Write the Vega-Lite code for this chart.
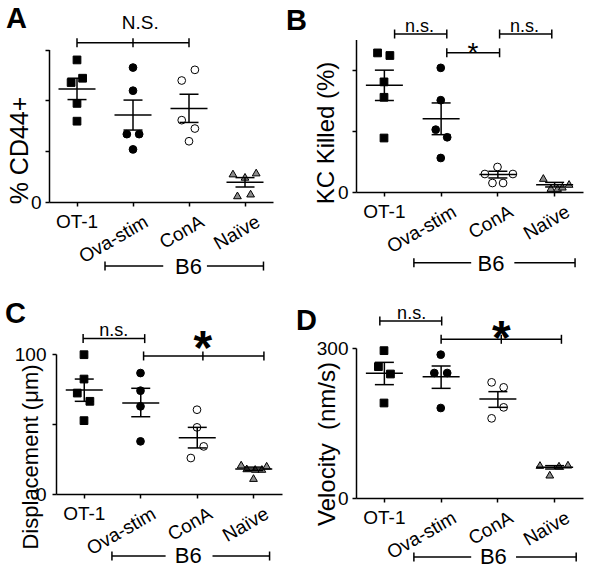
{
  "$schema": "https://vega.github.io/schema/vega-lite/v6.json",
  "background": "white",
  "padding": {"left": 5, "top": 5, "right": 5, "bottom": 0},
  "config": {
    "font": "Liberation Sans",
    "view": {"stroke": null},
    "axis": {"grid": false, "labelOverlap": false, "labelFlush": false, "domainColor": "black", "domainWidth": 1.5, "tickColor": "black", "tickWidth": 1.5, "tickSize": 4, "labelColor": "black", "labelFontSize": 19, "labelPadding": 4, "titleColor": "black", "titleFontWeight": "normal", "titleFontSize": 25},
    "title": {"fontSize": 29, "fontWeight": "bold", "color": "black", "anchor": "start", "frame": "group", "offset": 0},
    "text": {"color": "black"}
  },
  "datasets": {
    "A_pts": [
      {"group": "OT-1", "val": 55.9, "jit": 0}, {"group": "OT-1", "val": 48.7, "jit": 0.2}, {"group": "OT-1", "val": 47, "jit": -0.21}, {"group": "OT-1", "val": 38.8, "jit": 0}, {"group": "OT-1", "val": 31.8, "jit": 0},
      {"group": "Ova-stim", "val": 52.9, "jit": 0}, {"group": "Ova-stim", "val": 43.8, "jit": 0}, {"group": "Ova-stim", "val": 26.7, "jit": -0.22}, {"group": "Ova-stim", "val": 26.7, "jit": 0.22}, {"group": "Ova-stim", "val": 20.7, "jit": 0},
      {"group": "ConA", "val": 52, "jit": 0.21}, {"group": "ConA", "val": 47.8, "jit": -0.26}, {"group": "ConA", "val": 32.2, "jit": -0.26}, {"group": "ConA", "val": 28.9, "jit": 0.21}, {"group": "ConA", "val": 23.9, "jit": 0},
      {"group": "Naïve", "val": 11.2, "jit": -0.43}, {"group": "Naïve", "val": 9.9, "jit": 0}, {"group": "Naïve", "val": 11.6, "jit": 0.4}, {"group": "Naïve", "val": 3.3, "jit": 0.2}, {"group": "Naïve", "val": 2.6, "jit": -0.27}
    ],
    "A_sum": [
      {"group": "OT-1", "mean": 44.5, "lo": 40.3, "hi": 48.7}, {"group": "Ova-stim", "mean": 34.2, "lo": 28.3, "hi": 40.1}, {"group": "ConA", "mean": 36.8, "lo": 31.3, "hi": 42.4}, {"group": "Naïve", "mean": 7.8, "lo": 5.9, "hi": 9.6}
    ],
    "A_br": [{"x": 0.5, "x2": 2.5, "y": 62.7}, {"x": 1.0, "x2": 2.04, "y": -25.2}, {"x": 2.82, "x2": 3.83, "y": -25.2}],
    "A_cap": [{"x": 0.5, "y": 62.7}, {"x": 1.5, "y": 62.7}, {"x": 2.5, "y": 62.7}, {"x": 1.0, "y": -25.2}, {"x": 3.83, "y": -25.2}],
    "A_txt": [{"x": 1.63, "y": 68, "t": "N.S.", "k": "ns"}, {"x": 2.49, "y": -28.4, "t": "B6", "k": "b6"}],
    "B_pts": [
      {"group": "OT-1", "val": 91.2, "jit": -0.23}, {"group": "OT-1", "val": 89.5, "jit": 0.21}, {"group": "OT-1", "val": 72.2, "jit": 0}, {"group": "OT-1", "val": 62.1, "jit": 0}, {"group": "OT-1", "val": 35.4, "jit": 0},
      {"group": "Ova-stim", "val": 81.4, "jit": 0}, {"group": "Ova-stim", "val": 60.2, "jit": 0}, {"group": "Ova-stim", "val": 40.9, "jit": -0.18}, {"group": "Ova-stim", "val": 35.9, "jit": 0.23}, {"group": "Ova-stim", "val": 22.3, "jit": 0},
      {"group": "ConA", "val": 16.4, "jit": 0}, {"group": "ConA", "val": 11.8, "jit": -0.45}, {"group": "ConA", "val": 11.8, "jit": 0.55}, {"group": "ConA", "val": 5.9, "jit": -0.18}, {"group": "ConA", "val": 5.9, "jit": 0.2},
      {"group": "Naïve", "val": 9.2, "jit": -0.39}, {"group": "Naïve", "val": 2.6, "jit": -0.12}, {"group": "Naïve", "val": 2.6, "jit": 0.12}, {"group": "Naïve", "val": 3.5, "jit": 0.29}, {"group": "Naïve", "val": 5.3, "jit": 0.53}
    ],
    "B_sum": [
      {"group": "OT-1", "mean": 70, "lo": 60, "hi": 79.9}, {"group": "Ova-stim", "mean": 48.1, "lo": 37.6, "hi": 58.4}, {"group": "ConA", "mean": 11.4, "lo": 9.2, "hi": 13.6}, {"group": "Naïve", "mean": 4.8, "lo": 3.3, "hi": 6.3}
    ],
    "B_br": [{"x": 0.68, "x2": 1.6, "y": 103.6}, {"x": 1.6, "x2": 2.53, "y": 91.3}, {"x": 2.53, "x2": 3.45, "y": 103.6}, {"x": 1.02, "x2": 2.03, "y": -46.4}, {"x": 2.79, "x2": 3.86, "y": -46.4}],
    "B_cap": [{"x": 0.68, "y": 103.6}, {"x": 1.6, "y": 103.6}, {"x": 1.6, "y": 91.3}, {"x": 2.53, "y": 91.3}, {"x": 2.53, "y": 103.6}, {"x": 3.45, "y": 103.6}, {"x": 1.02, "y": -46.4}, {"x": 3.86, "y": -46.4}],
    "B_txt": [{"x": 1.12, "y": 105.1, "t": "n.s.", "k": "ns"}, {"x": 2.97, "y": 105.1, "t": "n.s.", "k": "ns"}, {"x": 2.06, "y": 85.4, "t": "*", "k": "star"}, {"x": 2.38, "y": -51.6, "t": "B6", "k": "b6"}],
    "C_pts": [
      {"group": "OT-1", "val": 99.5, "jit": 0}, {"group": "OT-1", "val": 82.1, "jit": 0}, {"group": "OT-1", "val": 72.1, "jit": -0.24}, {"group": "OT-1", "val": 66.2, "jit": 0.21}, {"group": "OT-1", "val": 52.4, "jit": 0},
      {"group": "Ova-stim", "val": 86.4, "jit": 0}, {"group": "Ova-stim", "val": 73.8, "jit": 0}, {"group": "Ova-stim", "val": 62.6, "jit": 0}, {"group": "Ova-stim", "val": 37.6, "jit": 0},
      {"group": "ConA", "val": 60.2, "jit": 0}, {"group": "ConA", "val": 47.6, "jit": 0}, {"group": "ConA", "val": 34, "jit": 0.24}, {"group": "ConA", "val": 25.7, "jit": -0.22},
      {"group": "Naïve", "val": 21, "jit": -0.44}, {"group": "Naïve", "val": 18.3, "jit": -0.24}, {"group": "Naïve", "val": 17.9, "jit": 0.06}, {"group": "Naïve", "val": 17.9, "jit": 0.3}, {"group": "Naïve", "val": 20.2, "jit": 0.47}, {"group": "Naïve", "val": 11.4, "jit": 0}
    ],
    "C_sum": [
      {"group": "OT-1", "mean": 74.3, "lo": 66.2, "hi": 82.1}, {"group": "Ova-stim", "mean": 65, "lo": 55.2, "hi": 75.5}, {"group": "ConA", "mean": 40.2, "lo": 32.9, "hi": 47.6}, {"group": "Naïve", "mean": 17.9, "lo": 16.7, "hi": 19.2}
    ],
    "C_br": [{"x": 0.48, "x2": 1.57, "y": 111}, {"x": 1.55, "x2": 3.68, "y": 98.6}, {"x": 0.99, "x2": 1.94, "y": -44.3}, {"x": 2.77, "x2": 3.78, "y": -44.3}],
    "C_cap": [{"x": 0.48, "y": 111}, {"x": 1.57, "y": 111}, {"x": 1.55, "y": 98.6}, {"x": 2.6, "y": 98.6}, {"x": 3.68, "y": 98.6}, {"x": 0.99, "y": -44.3}, {"x": 3.78, "y": -44.3}],
    "C_txt": [{"x": 1.02, "y": 112.9, "t": "n.s.", "k": "ns"}, {"x": 2.6, "y": 92.9, "t": "*", "k": "bigstar"}, {"x": 2.34, "y": -49.1, "t": "B6", "k": "b6"}],
    "D_pts": [
      {"group": "OT-1", "val": 294.7, "jit": 0}, {"group": "OT-1", "val": 262.7, "jit": -0.2}, {"group": "OT-1", "val": 248, "jit": 0.23}, {"group": "OT-1", "val": 190, "jit": 0},
      {"group": "Ova-stim", "val": 286.7, "jit": 0}, {"group": "Ova-stim", "val": 250, "jit": -0.23}, {"group": "Ova-stim", "val": 250, "jit": 0.23}, {"group": "Ova-stim", "val": 180, "jit": 0},
      {"group": "ConA", "val": 231.3, "jit": -0.21}, {"group": "ConA", "val": 221.3, "jit": 0.22}, {"group": "ConA", "val": 181.3, "jit": 0.22}, {"group": "ConA", "val": 159.3, "jit": -0.21},
      {"group": "Naïve", "val": 66, "jit": -0.51}, {"group": "Naïve", "val": 46.7, "jit": -0.16}, {"group": "Naïve", "val": 64.7, "jit": 0.17}, {"group": "Naïve", "val": 66.7, "jit": 0.49}
    ],
    "D_sum": [
      {"group": "OT-1", "mean": 249.3, "lo": 226.7, "hi": 271.3}, {"group": "Ova-stim", "mean": 242.7, "lo": 219.3, "hi": 264}, {"group": "ConA", "mean": 198, "lo": 181.3, "hi": 212.7}, {"group": "Naïve", "mean": 61.3, "lo": 58, "hi": 64.7}
    ],
    "D_br": [{"x": 0.42, "x2": 1.51, "y": 354}, {"x": 1.5, "x2": 3.62, "y": 317.4}, {"x": 1.02, "x2": 2.03, "y": -118}, {"x": 2.82, "x2": 3.88, "y": -118}],
    "D_cap": [{"x": 0.42, "y": 354}, {"x": 1.51, "y": 354}, {"x": 1.5, "y": 317.4}, {"x": 2.56, "y": 317.4}, {"x": 3.62, "y": 317.4}, {"x": 1.02, "y": -118}, {"x": 3.88, "y": -118}],
    "D_txt": [{"x": 0.98, "y": 357.4, "t": "n.s.", "k": "ns"}, {"x": 2.56, "y": 288, "t": "*", "k": "bigstar"}, {"x": 2.42, "y": -132.6, "t": "B6", "k": "b6"}]
  },
  "bounds": "flush",
  "columns": 2,
  "spacing": {"row": 146, "column": 74},
  "concat": [
    {
      "width": 224, "height": 163,
      "title": {"text": "A", "dx": -43, "dy": 24},
      "resolve": {"scale": {"x": "independent"}},
      "layer": [
        {"data": {"name": "A_pts"}, "mark": {"type": "point", "filled": true, "size": 60, "stroke": "black", "strokeWidth": 1, "opacity": 1},
         "encoding": {
           "x": {"field": "group", "type": "nominal", "scale": {"type": "band", "domain": ["OT-1", "Ova-stim", "ConA", "Naïve"], "paddingInner": 0, "paddingOuter": 0},
             "axis": {"title": null, "orient": "bottom", "labelPadding": 6, "labelAngle": 0, "labelExpr": "datum.value == 'OT-1' ? datum.label : ''"}},
           "xOffset": {"field": "jit", "type": "quantitative", "scale": {"domain": [-1, 1], "nice": false, "zero": false}},
           "y": {"field": "val", "type": "quantitative", "scale": {"domain": [0, 60], "range": [163, 10.5], "nice": false, "zero": false},
             "axis": {"title": "% CD44+", "labelOverlap": false, "labelSeparation": 0, "tickCount": 6, "values": [0, 10, 20, 30, 40, 50, 60], "labelFontSize": {"condition": {"test": "datum.value == 0 || datum.value == 50", "value": 19}, "value": 0}, "labelExpr": "datum.value == 0 || datum.value == 50 ? datum.label : ''", "titleX": -22, "titleY": 111, "titleBaseline": "alphabetic", "titleAlign": "center", "titleFontSize": 25}},
           "shape": {"field": "group", "type": "nominal", "scale": {"domain": ["OT-1", "Ova-stim", "ConA", "Naïve"], "range": ["square", "circle", "circle", "triangle-up"]}, "legend": null},
           "fill": {"field": "group", "type": "nominal", "scale": {"domain": ["OT-1", "Ova-stim", "ConA", "Naïve"], "range": ["black", "black", "white", "#8c8c8c"]}, "legend": null}
         }},
        {"data": {"name": "A_sum"}, "mark": {"type": "tick", "size": 37, "thickness": 1.5, "color": "black", "opacity": 1},
         "encoding": {"x": {"field": "group", "type": "nominal", "scale": {"type": "band", "domain": ["OT-1", "Ova-stim", "ConA", "Naïve"], "paddingInner": 0, "paddingOuter": 0},
             "axis": {"title": null, "orient": "bottom", "domain": false, "tickOpacity": 0, "labelPadding": 6, "labelAngle": -30, "labelAlign": "right", "labelBaseline": "top", "labelOffset": 9, "labelExpr": "datum.value == 'OT-1' ? '' : datum.label"}},
           "y": {"field": "mean", "type": "quantitative"}}},
        {"data": {"name": "A_sum"}, "mark": {"type": "rule", "strokeWidth": 1.5, "color": "black"},
         "encoding": {"x": {"field": "group", "type": "nominal", "scale": {"type": "band", "domain": ["OT-1", "Ova-stim", "ConA", "Naïve"], "paddingInner": 0, "paddingOuter": 0}, "axis": null}, "y": {"field": "lo", "type": "quantitative"}, "y2": {"field": "hi"}}},
        {"data": {"name": "A_sum"}, "mark": {"type": "tick", "size": 19, "thickness": 1.5, "color": "black", "opacity": 1},
         "encoding": {"x": {"field": "group", "type": "nominal", "scale": {"type": "band", "domain": ["OT-1", "Ova-stim", "ConA", "Naïve"], "paddingInner": 0, "paddingOuter": 0}, "axis": null}, "y": {"field": "lo", "type": "quantitative"}}},
        {"data": {"name": "A_sum"}, "mark": {"type": "tick", "size": 19, "thickness": 1.5, "color": "black", "opacity": 1},
         "encoding": {"x": {"field": "group", "type": "nominal", "scale": {"type": "band", "domain": ["OT-1", "Ova-stim", "ConA", "Naïve"], "paddingInner": 0, "paddingOuter": 0}, "axis": null}, "y": {"field": "hi", "type": "quantitative"}}},
        {"data": {"name": "A_br"}, "mark": {"type": "rule", "strokeWidth": 1.5, "color": "black"},
         "encoding": {"x": {"field": "x", "type": "quantitative", "scale": {"domain": [0, 4], "nice": false, "zero": false}, "axis": null}, "x2": {"field": "x2"}, "y": {"field": "y", "type": "quantitative"}}},
        {"data": {"name": "A_cap"}, "mark": {"type": "point", "shape": "M0,-1L0,1", "size": 81, "filled": false, "stroke": "black", "strokeWidth": 1.5, "opacity": 1},
         "encoding": {"x": {"field": "x", "type": "quantitative", "scale": {"domain": [0, 4], "nice": false, "zero": false}, "axis": null}, "y": {"field": "y", "type": "quantitative"}}},
        {"data": {"name": "A_txt"}, "transform": [{"filter": "datum.k == 'ns'"}], "mark": {"type": "text", "fontSize": 19, "baseline": "alphabetic", "align": "center"},
         "encoding": {"x": {"field": "x", "type": "quantitative", "scale": {"domain": [0, 4], "nice": false, "zero": false}, "axis": null}, "y": {"field": "y", "type": "quantitative"}, "text": {"field": "t"}}},
        {"data": {"name": "A_txt"}, "transform": [{"filter": "datum.k == 'b6'"}], "mark": {"type": "text", "fontSize": 22, "baseline": "alphabetic", "align": "center"},
         "encoding": {"x": {"field": "x", "type": "quantitative", "scale": {"domain": [0, 4], "nice": false, "zero": false}, "axis": null}, "y": {"field": "y", "type": "quantitative"}, "text": {"field": "t"}}}
      ]
    },
    {
      "width": 227, "height": 153,
      "title": {"text": "B", "dx": -70, "dy": 22},
      "resolve": {"scale": {"x": "independent"}},
      "layer": [
        {"data": {"name": "B_pts"}, "mark": {"type": "point", "filled": true, "size": 60, "stroke": "black", "strokeWidth": 1, "opacity": 1},
         "encoding": {
           "x": {"field": "group", "type": "nominal", "scale": {"type": "band", "domain": ["OT-1", "Ova-stim", "ConA", "Naïve"], "paddingInner": 0, "paddingOuter": 0},
             "axis": {"title": null, "orient": "bottom", "labelPadding": 6, "labelAngle": 0, "labelExpr": "datum.value == 'OT-1' ? datum.label : ''"}},
           "xOffset": {"field": "jit", "type": "quantitative", "scale": {"domain": [-1, 1], "nice": false, "zero": false}},
           "y": {"field": "val", "type": "quantitative", "scale": {"domain": [0, 100], "range": [153, 0.5], "nice": false, "zero": false},
             "axis": {"title": "KC Killed (%)", "labelOverlap": false, "labelSeparation": 0, "tickCount": 5, "values": [0, 20, 40, 60, 80, 100], "labelFontSize": {"condition": {"test": "datum.value == 0 || datum.value == 100", "value": 19}, "value": 0}, "labelExpr": "datum.value == 0 || datum.value == 100 ? datum.label : ''", "titleX": -23, "titleY": 93.5, "titleBaseline": "alphabetic", "titleAlign": "center", "titleFontSize": 24}},
           "shape": {"field": "group", "type": "nominal", "scale": {"domain": ["OT-1", "Ova-stim", "ConA", "Naïve"], "range": ["square", "circle", "circle", "triangle-up"]}, "legend": null},
           "fill": {"field": "group", "type": "nominal", "scale": {"domain": ["OT-1", "Ova-stim", "ConA", "Naïve"], "range": ["black", "black", "white", "#8c8c8c"]}, "legend": null}
         }},
        {"data": {"name": "B_sum"}, "mark": {"type": "tick", "size": 37, "thickness": 1.5, "color": "black", "opacity": 1},
         "encoding": {"x": {"field": "group", "type": "nominal", "scale": {"type": "band", "domain": ["OT-1", "Ova-stim", "ConA", "Naïve"], "paddingInner": 0, "paddingOuter": 0},
             "axis": {"title": null, "orient": "bottom", "domain": false, "tickOpacity": 0, "labelPadding": 6, "labelAngle": -30, "labelAlign": "right", "labelBaseline": "top", "labelOffset": 9, "labelExpr": "datum.value == 'OT-1' ? '' : datum.label"}},
           "y": {"field": "mean", "type": "quantitative"}}},
        {"data": {"name": "B_sum"}, "mark": {"type": "rule", "strokeWidth": 1.5, "color": "black"},
         "encoding": {"x": {"field": "group", "type": "nominal", "scale": {"type": "band", "domain": ["OT-1", "Ova-stim", "ConA", "Naïve"], "paddingInner": 0, "paddingOuter": 0}, "axis": null}, "y": {"field": "lo", "type": "quantitative"}, "y2": {"field": "hi"}}},
        {"data": {"name": "B_sum"}, "mark": {"type": "tick", "size": 19, "thickness": 1.5, "color": "black", "opacity": 1},
         "encoding": {"x": {"field": "group", "type": "nominal", "scale": {"type": "band", "domain": ["OT-1", "Ova-stim", "ConA", "Naïve"], "paddingInner": 0, "paddingOuter": 0}, "axis": null}, "y": {"field": "lo", "type": "quantitative"}}},
        {"data": {"name": "B_sum"}, "mark": {"type": "tick", "size": 19, "thickness": 1.5, "color": "black", "opacity": 1},
         "encoding": {"x": {"field": "group", "type": "nominal", "scale": {"type": "band", "domain": ["OT-1", "Ova-stim", "ConA", "Naïve"], "paddingInner": 0, "paddingOuter": 0}, "axis": null}, "y": {"field": "hi", "type": "quantitative"}}},
        {"data": {"name": "B_br"}, "mark": {"type": "rule", "strokeWidth": 1.5, "color": "black"},
         "encoding": {"x": {"field": "x", "type": "quantitative", "scale": {"domain": [0, 4], "nice": false, "zero": false}, "axis": null}, "x2": {"field": "x2"}, "y": {"field": "y", "type": "quantitative"}}},
        {"data": {"name": "B_cap"}, "mark": {"type": "point", "shape": "M0,-1L0,1", "size": 81, "filled": false, "stroke": "black", "strokeWidth": 1.5, "opacity": 1},
         "encoding": {"x": {"field": "x", "type": "quantitative", "scale": {"domain": [0, 4], "nice": false, "zero": false}, "axis": null}, "y": {"field": "y", "type": "quantitative"}}},
        {"data": {"name": "B_txt"}, "transform": [{"filter": "datum.k == 'ns'"}], "mark": {"type": "text", "fontSize": 18, "baseline": "alphabetic", "align": "center"},
         "encoding": {"x": {"field": "x", "type": "quantitative", "scale": {"domain": [0, 4], "nice": false, "zero": false}, "axis": null}, "y": {"field": "y", "type": "quantitative"}, "text": {"field": "t"}}},
        {"data": {"name": "B_txt"}, "transform": [{"filter": "datum.k == 'star'"}], "mark": {"type": "text", "fontSize": 28, "baseline": "alphabetic", "align": "center"},
         "encoding": {"x": {"field": "x", "type": "quantitative", "scale": {"domain": [0, 4], "nice": false, "zero": false}, "axis": null}, "y": {"field": "y", "type": "quantitative"}, "text": {"field": "t"}}},
        {"data": {"name": "B_txt"}, "transform": [{"filter": "datum.k == 'b6'"}], "mark": {"type": "text", "fontSize": 22, "baseline": "alphabetic", "align": "center"},
         "encoding": {"x": {"field": "x", "type": "quantitative", "scale": {"domain": [0, 4], "nice": false, "zero": false}, "axis": null}, "y": {"field": "y", "type": "quantitative"}, "text": {"field": "t"}}}
      ]
    },
    {
      "width": 233, "height": 146,
      "title": {"text": "C", "dx": -44, "dy": 11},
      "resolve": {"scale": {"x": "independent"}},
      "layer": [
        {"data": {"name": "C_pts"}, "mark": {"type": "point", "filled": true, "size": 60, "stroke": "black", "strokeWidth": 1, "opacity": 1},
         "encoding": {
           "x": {"field": "group", "type": "nominal", "scale": {"type": "band", "domain": ["OT-1", "Ova-stim", "ConA", "Naïve"], "paddingInner": 0, "paddingOuter": 0, "range": [7, 233]},
             "axis": {"title": null, "orient": "bottom", "labelPadding": 6, "labelAngle": 0, "labelExpr": "datum.value == 'OT-1' ? datum.label : ''"}},
           "xOffset": {"field": "jit", "type": "quantitative", "scale": {"domain": [-1, 1], "nice": false, "zero": false}},
           "y": {"field": "val", "type": "quantitative", "scale": {"domain": [0, 100], "range": [146, 6], "nice": false, "zero": false},
             "axis": {"title": "Displacement (μm)", "labelOverlap": false, "labelSeparation": 0, "offset": -7, "labelPadding": 6, "tickCount": 4, "values": [0, 25, 50, 75, 100], "labelFontSize": {"condition": {"test": "datum.value == 0 || datum.value == 100", "value": 19}, "value": 0}, "labelExpr": "datum.value == 0 || datum.value == 100 ? datum.label : ''", "titleX": -19, "titleY": 108.5, "titleBaseline": "alphabetic", "titleAlign": "center", "titleFontSize": 22}},
           "shape": {"field": "group", "type": "nominal", "scale": {"domain": ["OT-1", "Ova-stim", "ConA", "Naïve"], "range": ["square", "circle", "circle", "triangle-up"]}, "legend": null},
           "fill": {"field": "group", "type": "nominal", "scale": {"domain": ["OT-1", "Ova-stim", "ConA", "Naïve"], "range": ["black", "black", "white", "#8c8c8c"]}, "legend": null}
         }},
        {"data": {"name": "C_sum"}, "mark": {"type": "tick", "size": 37, "thickness": 1.5, "color": "black", "opacity": 1},
         "encoding": {"x": {"field": "group", "type": "nominal", "scale": {"type": "band", "domain": ["OT-1", "Ova-stim", "ConA", "Naïve"], "paddingInner": 0, "paddingOuter": 0, "range": [7, 233]},
             "axis": {"title": null, "orient": "bottom", "domain": false, "tickOpacity": 0, "labelPadding": 6, "labelAngle": -30, "labelAlign": "right", "labelBaseline": "top", "labelOffset": 9, "labelExpr": "datum.value == 'OT-1' ? '' : datum.label"}},
           "y": {"field": "mean", "type": "quantitative"}}},
        {"data": {"name": "C_sum"}, "mark": {"type": "rule", "strokeWidth": 1.5, "color": "black"},
         "encoding": {"x": {"field": "group", "type": "nominal", "scale": {"type": "band", "domain": ["OT-1", "Ova-stim", "ConA", "Naïve"], "paddingInner": 0, "paddingOuter": 0, "range": [7, 233]}, "axis": null}, "y": {"field": "lo", "type": "quantitative"}, "y2": {"field": "hi"}}},
        {"data": {"name": "C_sum"}, "mark": {"type": "tick", "size": 19, "thickness": 1.5, "color": "black", "opacity": 1},
         "encoding": {"x": {"field": "group", "type": "nominal", "scale": {"type": "band", "domain": ["OT-1", "Ova-stim", "ConA", "Naïve"], "paddingInner": 0, "paddingOuter": 0, "range": [7, 233]}, "axis": null}, "y": {"field": "lo", "type": "quantitative"}}},
        {"data": {"name": "C_sum"}, "mark": {"type": "tick", "size": 19, "thickness": 1.5, "color": "black", "opacity": 1},
         "encoding": {"x": {"field": "group", "type": "nominal", "scale": {"type": "band", "domain": ["OT-1", "Ova-stim", "ConA", "Naïve"], "paddingInner": 0, "paddingOuter": 0, "range": [7, 233]}, "axis": null}, "y": {"field": "hi", "type": "quantitative"}}},
        {"data": {"name": "C_br"}, "mark": {"type": "rule", "strokeWidth": 1.5, "color": "black"},
         "encoding": {"x": {"field": "x", "type": "quantitative", "scale": {"domain": [0, 4], "range": [7, 233], "nice": false, "zero": false}, "axis": null}, "x2": {"field": "x2"}, "y": {"field": "y", "type": "quantitative"}}},
        {"data": {"name": "C_cap"}, "mark": {"type": "point", "shape": "M0,-1L0,1", "size": 81, "filled": false, "stroke": "black", "strokeWidth": 1.5, "opacity": 1},
         "encoding": {"x": {"field": "x", "type": "quantitative", "scale": {"domain": [0, 4], "range": [7, 233], "nice": false, "zero": false}, "axis": null}, "y": {"field": "y", "type": "quantitative"}}},
        {"data": {"name": "C_txt"}, "transform": [{"filter": "datum.k == 'ns'"}], "mark": {"type": "text", "fontSize": 18, "baseline": "alphabetic", "align": "center"},
         "encoding": {"x": {"field": "x", "type": "quantitative", "scale": {"domain": [0, 4], "range": [7, 233], "nice": false, "zero": false}, "axis": null}, "y": {"field": "y", "type": "quantitative"}, "text": {"field": "t"}}},
        {"data": {"name": "C_txt"}, "transform": [{"filter": "datum.k == 'bigstar'"}], "mark": {"type": "text", "fontSize": 48, "fontWeight": "bold", "baseline": "alphabetic", "align": "center"},
         "encoding": {"x": {"field": "x", "type": "quantitative", "scale": {"domain": [0, 4], "range": [7, 233], "nice": false, "zero": false}, "axis": null}, "y": {"field": "y", "type": "quantitative"}, "text": {"field": "t"}}},
        {"data": {"name": "C_txt"}, "transform": [{"filter": "datum.k == 'b6'"}], "mark": {"type": "text", "fontSize": 22, "baseline": "alphabetic", "align": "center"},
         "encoding": {"x": {"field": "x", "type": "quantitative", "scale": {"domain": [0, 4], "range": [7, 233], "nice": false, "zero": false}, "axis": null}, "y": {"field": "y", "type": "quantitative"}, "text": {"field": "t"}}}
      ]
    },
    {
      "width": 227, "height": 150,
      "title": {"text": "D", "dx": -60, "dy": 35},
      "resolve": {"scale": {"x": "independent"}},
      "layer": [
        {"data": {"name": "D_pts"}, "mark": {"type": "point", "filled": true, "size": 60, "stroke": "black", "strokeWidth": 1, "opacity": 1},
         "encoding": {
           "x": {"field": "group", "type": "nominal", "scale": {"type": "band", "domain": ["OT-1", "Ova-stim", "ConA", "Naïve"], "paddingInner": 0, "paddingOuter": 0},
             "axis": {"title": null, "orient": "bottom", "labelPadding": 6, "labelAngle": 0, "labelExpr": "datum.value == 'OT-1' ? datum.label : ''"}},
           "xOffset": {"field": "jit", "type": "quantitative", "scale": {"domain": [-1, 1], "nice": false, "zero": false}},
           "y": {"field": "val", "type": "quantitative", "scale": {"domain": [0, 300], "nice": false, "zero": false},
             "axis": {"title": "Velocity\u00a0 (nm/s)", "labelOverlap": false, "labelSeparation": 0, "tickCount": 3, "values": [0, 100, 200, 300], "labelFontSize": {"condition": {"test": "datum.value == 0 || datum.value == 300", "value": 19}, "value": 0}, "labelExpr": "datum.value == 0 || datum.value == 300 ? datum.label : ''", "titleX": -22, "titleY": 95.5, "titleBaseline": "alphabetic", "titleAlign": "center", "titleFontSize": 24}},
           "shape": {"field": "group", "type": "nominal", "scale": {"domain": ["OT-1", "Ova-stim", "ConA", "Naïve"], "range": ["square", "circle", "circle", "triangle-up"]}, "legend": null},
           "fill": {"field": "group", "type": "nominal", "scale": {"domain": ["OT-1", "Ova-stim", "ConA", "Naïve"], "range": ["black", "black", "white", "#8c8c8c"]}, "legend": null}
         }},
        {"data": {"name": "D_sum"}, "mark": {"type": "tick", "size": 37, "thickness": 1.5, "color": "black", "opacity": 1},
         "encoding": {"x": {"field": "group", "type": "nominal", "scale": {"type": "band", "domain": ["OT-1", "Ova-stim", "ConA", "Naïve"], "paddingInner": 0, "paddingOuter": 0},
             "axis": {"title": null, "orient": "bottom", "domain": false, "tickOpacity": 0, "labelPadding": 6, "labelAngle": -30, "labelAlign": "right", "labelBaseline": "top", "labelOffset": 9, "labelExpr": "datum.value == 'OT-1' ? '' : datum.label"}},
           "y": {"field": "mean", "type": "quantitative"}}},
        {"data": {"name": "D_sum"}, "mark": {"type": "rule", "strokeWidth": 1.5, "color": "black"},
         "encoding": {"x": {"field": "group", "type": "nominal", "scale": {"type": "band", "domain": ["OT-1", "Ova-stim", "ConA", "Naïve"], "paddingInner": 0, "paddingOuter": 0}, "axis": null}, "y": {"field": "lo", "type": "quantitative"}, "y2": {"field": "hi"}}},
        {"data": {"name": "D_sum"}, "mark": {"type": "tick", "size": 19, "thickness": 1.5, "color": "black", "opacity": 1},
         "encoding": {"x": {"field": "group", "type": "nominal", "scale": {"type": "band", "domain": ["OT-1", "Ova-stim", "ConA", "Naïve"], "paddingInner": 0, "paddingOuter": 0}, "axis": null}, "y": {"field": "lo", "type": "quantitative"}}},
        {"data": {"name": "D_sum"}, "mark": {"type": "tick", "size": 19, "thickness": 1.5, "color": "black", "opacity": 1},
         "encoding": {"x": {"field": "group", "type": "nominal", "scale": {"type": "band", "domain": ["OT-1", "Ova-stim", "ConA", "Naïve"], "paddingInner": 0, "paddingOuter": 0}, "axis": null}, "y": {"field": "hi", "type": "quantitative"}}},
        {"data": {"name": "D_br"}, "mark": {"type": "rule", "strokeWidth": 1.5, "color": "black"},
         "encoding": {"x": {"field": "x", "type": "quantitative", "scale": {"domain": [0, 4], "nice": false, "zero": false}, "axis": null}, "x2": {"field": "x2"}, "y": {"field": "y", "type": "quantitative"}}},
        {"data": {"name": "D_cap"}, "mark": {"type": "point", "shape": "M0,-1L0,1", "size": 81, "filled": false, "stroke": "black", "strokeWidth": 1.5, "opacity": 1},
         "encoding": {"x": {"field": "x", "type": "quantitative", "scale": {"domain": [0, 4], "nice": false, "zero": false}, "axis": null}, "y": {"field": "y", "type": "quantitative"}}},
        {"data": {"name": "D_txt"}, "transform": [{"filter": "datum.k == 'ns'"}], "mark": {"type": "text", "fontSize": 18, "baseline": "alphabetic", "align": "center"},
         "encoding": {"x": {"field": "x", "type": "quantitative", "scale": {"domain": [0, 4], "nice": false, "zero": false}, "axis": null}, "y": {"field": "y", "type": "quantitative"}, "text": {"field": "t"}}},
        {"data": {"name": "D_txt"}, "transform": [{"filter": "datum.k == 'bigstar'"}], "mark": {"type": "text", "fontSize": 48, "fontWeight": "bold", "baseline": "alphabetic", "align": "center"},
         "encoding": {"x": {"field": "x", "type": "quantitative", "scale": {"domain": [0, 4], "nice": false, "zero": false}, "axis": null}, "y": {"field": "y", "type": "quantitative"}, "text": {"field": "t"}}},
        {"data": {"name": "D_txt"}, "transform": [{"filter": "datum.k == 'b6'"}], "mark": {"type": "text", "fontSize": 22, "baseline": "alphabetic", "align": "center"},
         "encoding": {"x": {"field": "x", "type": "quantitative", "scale": {"domain": [0, 4], "nice": false, "zero": false}, "axis": null}, "y": {"field": "y", "type": "quantitative"}, "text": {"field": "t"}}}
      ]
    }
  ]
}
